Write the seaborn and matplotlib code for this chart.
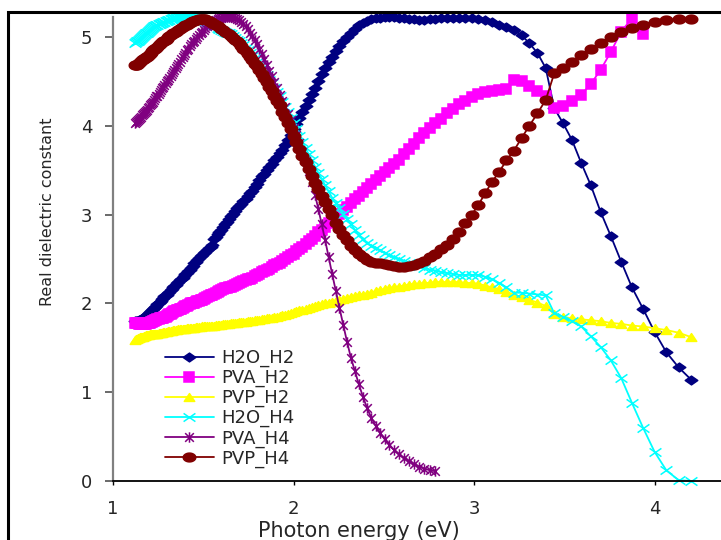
import numpy as np
import seaborn as sns
import matplotlib.pyplot as plt
from matplotlib.path import Path
from matplotlib.patches import Rectangle
from matplotlib import font_manager

# %%
# measurement grid (nm), 5 nm steps
wavelength_nm = list(range(1105, 290, -5))
photon_energy = [1240.0 / w for w in wavelength_nm]

h2o_h2 = [1.80, 1.80, 1.80, 1.80, 1.81, 1.81, 1.82, 1.82, 1.83, 1.84,
          1.85, 1.86, 1.87, 1.88, 1.89, 1.90, 1.91, 1.92, 1.94, 1.95,
          1.96, 1.97, 1.99, 2.00, 2.02, 2.03, 2.05, 2.06, 2.08, 2.09,
          2.10, 2.12, 2.13, 2.15, 2.16, 2.18, 2.20, 2.21, 2.23, 2.24,
          2.26, 2.27, 2.29, 2.31, 2.33, 2.34, 2.36, 2.38, 2.40, 2.42,
          2.45, 2.47, 2.49, 2.51, 2.53, 2.55, 2.57, 2.58, 2.60, 2.62,
          2.63, 2.66, 2.73, 2.75, 2.78, 2.80, 2.83, 2.86, 2.89, 2.92,
          2.95, 2.98, 3.01, 3.04, 3.07, 3.10, 3.12, 3.15, 3.18, 3.21,
          3.24, 3.27, 3.31, 3.35, 3.39, 3.43, 3.46, 3.50, 3.54, 3.57,
          3.61, 3.65, 3.69, 3.73, 3.78, 3.84, 3.90, 3.96, 4.02, 4.09,
          4.16, 4.22, 4.29, 4.36, 4.43, 4.50, 4.58, 4.65, 4.72, 4.78,
          4.84, 4.90, 4.95, 5.00, 5.05, 5.09, 5.13, 5.16, 5.18, 5.20,
          5.21, 5.21, 5.22, 5.22, 5.22, 5.21, 5.21, 5.20, 5.20, 5.19,
          5.19, 5.20, 5.20, 5.21, 5.21, 5.21, 5.21, 5.21, 5.21, 5.20,
          5.19, 5.17, 5.14, 5.11, 5.08, 5.02, 4.93, 4.82, 4.65, 4.20,
          4.03, 3.84, 3.58, 3.33, 3.03, 2.76, 2.47, 2.18, 1.94, 1.68,
          1.45, 1.28, 1.14]

pva_h2 = [1.78, 1.78, 1.78, 1.78, 1.77, 1.77, 1.77, 1.77, 1.77, 1.77,
          1.77, 1.77, 1.78, 1.78, 1.78, 1.78, 1.79, 1.79, 1.80, 1.80,
          1.81, 1.81, 1.82, 1.82, 1.83, 1.83, 1.84, 1.84, 1.85, 1.85,
          1.86, 1.87, 1.88, 1.88, 1.89, 1.90, 1.91, 1.91, 1.92, 1.93,
          1.94, 1.94, 1.95, 1.96, 1.97, 1.97, 1.98, 1.99, 2.00, 2.00,
          2.01, 2.02, 2.03, 2.03, 2.04, 2.04, 2.05, 2.06, 2.07, 2.08,
          2.09, 2.10, 2.11, 2.12, 2.13, 2.14, 2.15, 2.16, 2.17, 2.17,
          2.18, 2.19, 2.20, 2.21, 2.22, 2.23, 2.24, 2.25, 2.26, 2.27,
          2.28, 2.29, 2.31, 2.32, 2.33, 2.35, 2.36, 2.38, 2.39, 2.41,
          2.43, 2.44, 2.46, 2.48, 2.50, 2.52, 2.54, 2.56, 2.59, 2.61,
          2.64, 2.67, 2.70, 2.73, 2.76, 2.80, 2.83, 2.86, 2.90, 2.93,
          2.97, 3.01, 3.05, 3.09, 3.13, 3.17, 3.21, 3.25, 3.30, 3.34,
          3.39, 3.43, 3.48, 3.53, 3.57, 3.62, 3.68, 3.74, 3.80, 3.86,
          3.92, 3.98, 4.03, 4.08, 4.14, 4.19, 4.24, 4.28, 4.32, 4.36,
          4.38, 4.39, 4.40, 4.41, 4.52, 4.50, 4.45, 4.39, 4.33, 4.20,
          4.22, 4.28, 4.35, 4.47, 4.63, 4.83, 5.06, 5.21, 5.03]

pvp_h2 = [1.59, 1.60, 1.60, 1.61, 1.61, 1.62, 1.62, 1.62, 1.62, 1.63,
          1.63, 1.64, 1.64, 1.64, 1.64, 1.65, 1.65, 1.65, 1.65, 1.66,
          1.66, 1.66, 1.66, 1.67, 1.67, 1.67, 1.67, 1.68, 1.68, 1.68,
          1.68, 1.69, 1.69, 1.69, 1.69, 1.70, 1.70, 1.70, 1.70, 1.71,
          1.71, 1.71, 1.71, 1.71, 1.71, 1.72, 1.72, 1.72, 1.72, 1.72,
          1.72, 1.73, 1.73, 1.73, 1.73, 1.74, 1.74, 1.74, 1.74, 1.75,
          1.75, 1.75, 1.75, 1.76, 1.76, 1.76, 1.76, 1.77, 1.77, 1.77,
          1.77, 1.78, 1.78, 1.78, 1.78, 1.79, 1.79, 1.79, 1.79, 1.80,
          1.80, 1.80, 1.81, 1.81, 1.81, 1.82, 1.82, 1.83, 1.83, 1.84,
          1.85, 1.85, 1.86, 1.87, 1.87, 1.88, 1.89, 1.90, 1.91, 1.92,
          1.93, 1.94, 1.95, 1.96, 1.97, 1.98, 1.99, 2.00, 2.01, 2.02,
          2.03, 2.04, 2.05, 2.06, 2.07, 2.08, 2.09, 2.10, 2.11, 2.12,
          2.14, 2.15, 2.16, 2.17, 2.18, 2.19, 2.20, 2.21, 2.22, 2.22,
          2.23, 2.23, 2.24, 2.24, 2.24, 2.24, 2.24, 2.23, 2.23, 2.22,
          2.20, 2.18, 2.16, 2.13, 2.10, 2.07, 2.04, 2.01, 1.97, 1.88,
          1.85, 1.83, 1.82, 1.81, 1.80, 1.78, 1.77, 1.75, 1.74, 1.72,
          1.70, 1.67, 1.62]

h2o_h4 = [4.93, 4.94, 4.95, 4.96, 4.97, 4.98, 4.99, 5.00, 5.01, 5.02,
          5.03, 5.04, 5.05, 5.06, 5.07, 5.08, 5.09, 5.10, 5.11, 5.12,
          5.12, 5.13, 5.14, 5.15, 5.15, 5.16, 5.16, 5.17, 5.17, 5.18,
          5.18, 5.19, 5.19, 5.20, 5.20, 5.21, 5.21, 5.21, 5.21, 5.22,
          5.22, 5.22, 5.22, 5.22, 5.22, 5.22, 5.22, 5.22, 5.22, 5.22,
          5.21, 5.21, 5.21, 5.21, 5.20, 5.20, 5.19, 5.18, 5.17, 5.16,
          5.15, 5.14, 5.13, 5.12, 5.10, 5.09, 5.08, 5.07, 5.06, 5.05,
          5.04, 5.03, 5.01, 4.99, 4.97, 4.95, 4.93, 4.91, 4.88, 4.85,
          4.82, 4.79, 4.76, 4.72, 4.69, 4.65, 4.61, 4.57, 4.52, 4.48,
          4.43, 4.38, 4.33, 4.27, 4.21, 4.15, 4.09, 4.03, 3.96, 3.89,
          3.82, 3.75, 3.68, 3.61, 3.54, 3.47, 3.40, 3.33, 3.26, 3.19,
          3.13, 3.07, 3.01, 2.95, 2.89, 2.83, 2.77, 2.72, 2.68, 2.65,
          2.62, 2.60, 2.57, 2.54, 2.52, 2.50, 2.48, 2.46, 2.44, 2.42,
          2.40, 2.38, 2.37, 2.35, 2.34, 2.33, 2.32, 2.32, 2.32, 2.32,
          2.30, 2.27, 2.23, 2.18, 2.12, 2.12, 2.11, 2.10, 2.09, 1.89,
          1.85, 1.80, 1.74, 1.63, 1.51, 1.36, 1.16, 0.88, 0.60, 0.33,
          0.12, 0.01, 0.00]

pva_h4 = [4.03, 4.04, 4.05, 4.07, 4.08, 4.09, 4.10, 4.12, 4.13, 4.14,
          4.15, 4.17, 4.18, 4.20, 4.21, 4.23, 4.24, 4.26, 4.27, 4.29,
          4.31, 4.33, 4.34, 4.36, 4.38, 4.40, 4.42, 4.44, 4.46, 4.48,
          4.50, 4.52, 4.54, 4.56, 4.58, 4.61, 4.63, 4.65, 4.67, 4.70,
          4.72, 4.75, 4.77, 4.80, 4.82, 4.85, 4.87, 4.90, 4.92, 4.94,
          4.96, 4.98, 5.00, 5.02, 5.04, 5.06, 5.08, 5.10, 5.12, 5.14,
          5.15, 5.17, 5.18, 5.19, 5.20, 5.21, 5.21, 5.22, 5.22, 5.22,
          5.22, 5.22, 5.22, 5.21, 5.20, 5.19, 5.17, 5.15, 5.12, 5.09,
          5.05, 5.01, 4.97, 4.92, 4.87, 4.81, 4.75, 4.69, 4.62, 4.56,
          4.49, 4.42, 4.35, 4.28, 4.21, 4.13, 4.06, 3.98, 3.90, 3.81,
          3.71, 3.60, 3.49, 3.37, 3.22, 3.06, 2.89, 2.71, 2.52, 2.33,
          2.14, 1.95, 1.76, 1.57, 1.39, 1.24, 1.09, 0.95, 0.82, 0.71,
          0.62, 0.54, 0.47, 0.41, 0.35, 0.30, 0.26, 0.22, 0.19, 0.16,
          0.14, 0.12, 0.11]

pvp_h4 = [4.68, 4.68, 4.69, 4.70, 4.71, 4.72, 4.73, 4.74, 4.75, 4.75,
          4.76, 4.77, 4.78, 4.79, 4.80, 4.81, 4.82, 4.84, 4.85, 4.86,
          4.87, 4.88, 4.89, 4.91, 4.92, 4.93, 4.94, 4.95, 4.96, 4.97,
          4.98, 5.00, 5.01, 5.02, 5.03, 5.04, 5.05, 5.06, 5.07, 5.08,
          5.09, 5.10, 5.11, 5.12, 5.13, 5.14, 5.15, 5.16, 5.17, 5.18,
          5.18, 5.19, 5.19, 5.20, 5.20, 5.20, 5.20, 5.20, 5.19, 5.18,
          5.17, 5.16, 5.15, 5.14, 5.12, 5.11, 5.09, 5.08, 5.06, 5.05,
          5.03, 5.01, 4.99, 4.97, 4.95, 4.93, 4.90, 4.87, 4.84, 4.81,
          4.77, 4.74, 4.70, 4.67, 4.63, 4.58, 4.54, 4.49, 4.44, 4.39,
          4.34, 4.28, 4.23, 4.16, 4.10, 4.03, 3.96, 3.89, 3.82, 3.74,
          3.66, 3.59, 3.51, 3.43, 3.36, 3.29, 3.21, 3.14, 3.06, 2.99,
          2.91, 2.84, 2.77, 2.71, 2.65, 2.60, 2.56, 2.52, 2.49, 2.47,
          2.46, 2.45, 2.44, 2.43, 2.42, 2.41, 2.41, 2.42, 2.43, 2.45,
          2.48, 2.52, 2.56, 2.61, 2.66, 2.72, 2.80, 2.91, 3.00, 3.11,
          3.24, 3.37, 3.48, 3.61, 3.72, 3.86, 4.00, 4.14, 4.29, 4.59,
          4.65, 4.72, 4.80, 4.87, 4.93, 5.00, 5.06, 5.10, 5.14, 5.17,
          5.19, 5.20, 5.20]

series_names = ["H2O_H2", "PVA_H2", "PVP_H2", "H2O_H4", "PVA_H4", "PVP_H4"]
series_values = [h2o_h2, pva_h2, pvp_h2, h2o_h4, pva_h4, pvp_h4]
x_ticks = [1, 2, 3, 4]
y_ticks = [0, 1, 2, 3, 4, 5]

# %%
# excel-like marker shapes (a bit wider than tall)
t = np.linspace(0, 2 * np.pi, 41)
ellipse = Path(np.column_stack([np.cos(t), 0.7 * np.sin(t)]), closed=True)
diamond = Path([(-1, 0), (0, -0.7), (1, 0), (0, 0.7), (-1, 0)], closed=True)
triangle = Path([(-1, -0.75), (1, -0.75), (0, 0.75), (-1, -0.75)], closed=True)
xmark = Path([(-1, -0.7), (1, 0.7), (-1, 0.7), (1, -0.7)],
             [Path.MOVETO, Path.LINETO, Path.MOVETO, Path.LINETO])
star = Path([(-1, -1), (1, 1), (-1, 1), (1, -1), (0, -1.2), (0, 1.2)],
            [Path.MOVETO, Path.LINETO, Path.MOVETO, Path.LINETO, Path.MOVETO, Path.LINETO])

styles = [
    dict(color="#000080", marker=diamond, markersize=9, markerfacecolor="#000080"),
    dict(color="#FF00FF", marker="s", markersize=7, markerfacecolor="#FF00FF"),
    dict(color="#FFFF00", marker=triangle, markersize=7.5, markerfacecolor="#FFFF00"),
    dict(color="#00FFFF", marker=xmark, markersize=8.5, markerfacecolor="none"),
    dict(color="#800080", marker=star, markersize=7.5, markerfacecolor="none"),
    dict(color="#800000", marker=ellipse, markersize=9, markerfacecolor="#800000"),
]

# %%
sns.set_style("white")
plt.rcParams['font.family'] = ['DejaVu Sans']

fig = plt.figure(figsize=(7.21, 5.40), dpi=100)
ax = fig.add_axes([113 / 721, 59 / 540, 608 / 721, 464 / 540])

for name, vals, st in zip(series_names, series_values, styles):
    sns.lineplot(x=photon_energy[:len(vals)], y=vals, ax=ax, label=name,
                 estimator=None, sort=False, linewidth=1.3,
                 markeredgecolor=st["color"], markeredgewidth=1.1,
                 clip_on=False, **st)

ax.set_xlim(1, 1 + 608 / 180.5)
ax.set_ylim(0, 5.225)
ax.set_xticks(x_ticks)
ax.set_yticks(y_ticks)
ax.tick_params(axis="y", direction="out", length=6, width=1.2, color="#505050",
               labelsize=13, pad=9, left=True)
ax.tick_params(axis="x", direction="out", length=3, width=1.0, color="black",
               labelsize=13, pad=11, bottom=True)

for s in ["top", "right"]:
    ax.spines[s].set_visible(False)
ax.spines["left"].set_color("#808080")
ax.spines["left"].set_linewidth(1.6)
ax.spines["bottom"].set_color("black")
ax.spines["bottom"].set_linewidth(1.3)

ax.set_xlabel("Photon energy (eV)", fontsize=15)
ax.xaxis.set_label_coords((359 - 113) / 608, (481 - 521) / 464)

names = {f.name for f in font_manager.fontManager.ttflist}
if "Liberation Sans Narrow" in names:
    ax.set_ylabel("Real dielectric constant", fontsize=15, family="Liberation Sans Narrow")
else:
    ax.set_ylabel("Real dielectric constant", fontsize=11.5)
ax.yaxis.set_label_coords((55 - 113) / 608, (481 - 212) / 464)

ax.legend(loc="upper left", bbox_to_anchor=(165 / 721, 1 - 349 / 540),
          bbox_transform=fig.transFigure, frameon=False, fontsize=13,
          handlelength=2.7, handletextpad=0.4, labelspacing=0.1,
          borderpad=0, borderaxespad=0, numpoints=1)

# black chart border (only left/top edges fall inside the image)
fig.patches.append(Rectangle((8 / 721, -0.1), 1.2, 1.1 - 12 / 540, transform=fig.transFigure,
                             fill=False, edgecolor="black", linewidth=2.2))

fig.savefig("out.png", dpi=100)
